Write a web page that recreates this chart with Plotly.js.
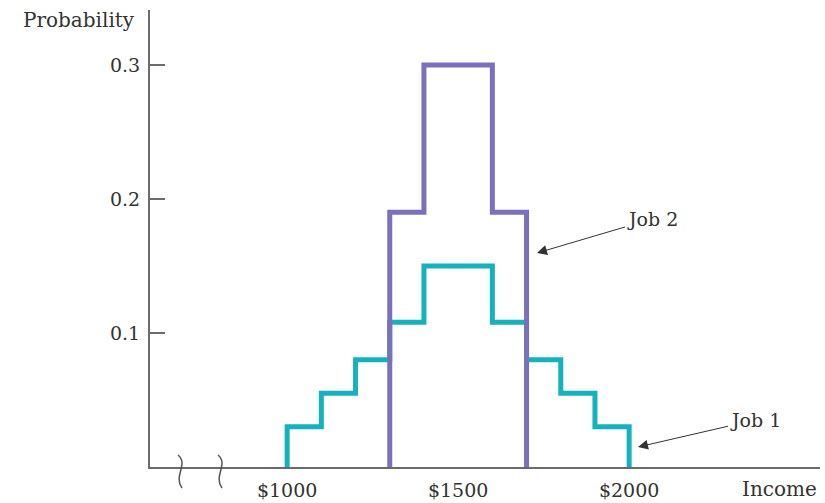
<!DOCTYPE html>
<html>
<head>
<meta charset="utf-8">
<script src="https://cdn.plot.ly/plotly-3.0.1.min.js"></script>
<style>html,body{margin:0;padding:0;background:#fff;}#chart{width:825px;height:503px;}</style>
</head>
<body>
<div id="chart"></div>
<script>
// Income bin edges and probabilities
const job1Edges = [1000, 1100, 1200, 1300, 1400, 1500, 1600, 1700, 1800, 1900, 2000];
const job1Prob  = [0.03, 0.055, 0.08, 0.108, 0.15, 0.15, 0.108, 0.08, 0.055, 0.03];
const job2Edges = [1300, 1400, 1500, 1600, 1700];
const job2Prob  = [0.19, 0.30, 0.30, 0.19];
const xTickVals = [1000, 1500, 2000];
const xTickText = ['$1000', '$1500', '$2000'];
const yTickVals = [0.1, 0.2, 0.3];
const yTickText = ['0.1', '0.2', '0.3'];

function stepXY(edges, probs) {
  const x = [edges[0]], y = [0];
  for (let i = 0; i < probs.length; i++) { x.push(edges[i]); y.push(probs[i]); }
  x.push(edges[edges.length - 1]); y.push(0);
  return {x, y};
}
const s1 = stepXY(job1Edges, job1Prob);
const s2 = stepXY(job2Edges, job2Prob);

const FONT = 'DejaVu Serif, Liberation Serif, serif';
const TXT = '#333333';
const AX = '#6b6b6b';

const traces = [
  {x: s1.x, y: s1.y, type: 'scatter', mode: 'lines', line: {shape: 'hv', color: '#14b2be', width: 5}, name: 'Job 1', hoverinfo: 'skip'},
  {x: s2.x, y: s2.y, type: 'scatter', mode: 'lines', line: {shape: 'hv', color: '#7a70be', width: 5}, name: 'Job 2', hoverinfo: 'skip'}
];

function px2px(p) { return (p - 150) / 670; }
function py2py(p) { return (467 - p) / 457; }
function squiggle(cx) {
  const t = 455, b = 488;
  return 'M ' + px2px(cx - 3) + ',' + py2py(t) +
    ' C ' + px2px(cx + 8) + ',' + py2py(t + 9) + ' ' + px2px(cx - 8) + ',' + py2py(b - 12) + ' ' + px2px(cx + 1) + ',' + py2py(b);
}

const layout = {
  width: 825, height: 503,
  margin: {l: 150, r: 5, t: 10, b: 36},
  paper_bgcolor: '#fff', plot_bgcolor: '#fff',
  showlegend: false,
  font: {family: FONT, color: TXT, size: 19},
  xaxis: {
    range: [599, 2558], showgrid: false, zeroline: false,
    showline: true, linecolor: AX, linewidth: 2,
    ticks: '', tickvals: xTickVals, ticktext: xTickText,
    tickfont: {family: FONT, size: 19, color: TXT}, ticklabelstandoff: 5
  },
  yaxis: {
    range: [0, 0.341], showgrid: false, zeroline: false,
    showline: true, linecolor: AX, linewidth: 2,
    ticks: 'inside', ticklen: 15, tickwidth: 2, tickcolor: AX,
    tickvals: yTickVals, ticktext: yTickText,
    tickfont: {family: FONT, size: 19, color: TXT}, ticklabelstandoff: 4
  },
  shapes: [
    {type: 'path', xref: 'paper', yref: 'paper', path: squiggle(181), line: {color: '#555', width: 1.5}},
    {type: 'path', xref: 'paper', yref: 'paper', path: squiggle(221), line: {color: '#555', width: 1.5}}
  ],
  annotations: [
    {xref: 'paper', yref: 'paper', x: px2px(137), y: py2py(20), xanchor: 'right', yanchor: 'middle', text: 'Probability', showarrow: false, font: {family: FONT, size: 20, color: TXT}},
    {xref: 'paper', yref: 'paper', x: px2px(819), y: py2py(489), xanchor: 'right', yanchor: 'middle', text: 'Income', showarrow: false, font: {family: FONT, size: 20, color: TXT}},
    {xref: 'paper', yref: 'paper', x: px2px(537), y: py2py(253), ax: 115, ay: -34, text: 'Job 2', showarrow: true, arrowhead: 2, arrowsize: 2, arrowwidth: 1, arrowcolor: '#333', font: {family: FONT, size: 19, color: TXT}},
    {xref: 'paper', yref: 'paper', x: px2px(638), y: py2py(447), ax: 117, ay: -27, text: 'Job 1', showarrow: true, arrowhead: 2, arrowsize: 2, arrowwidth: 1, arrowcolor: '#333', font: {family: FONT, size: 19, color: TXT}}
  ]
};

Plotly.newPlot('chart', traces, layout, {staticPlot: true, displayModeBar: false});
</script>
</body>
</html>
